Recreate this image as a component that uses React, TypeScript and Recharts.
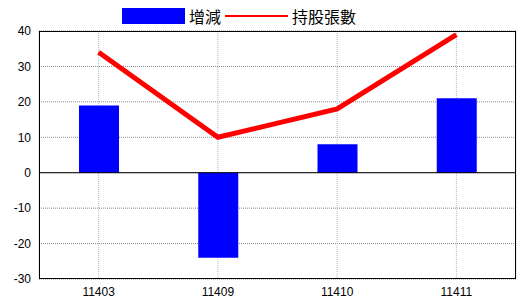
import * as R from 'recharts';
import { ComposedChart, Bar, Line, XAxis, YAxis, CartesianGrid, ReferenceLine, Legend } from 'recharts';

const months = ['11403', '11409', '11410', '11411'];
const change = [19, -24, 8, 21];
const holdings = [34, 10, 18, 39];
const yTicks = [-30, -20, -10, 0, 10, 20, 30, 40];

const data = months.map((m, i) => ({ month: m, change: change[i], holdings: holdings[i] }));

const tickStyle = { fontFamily: 'Liberation Sans, Arial, sans-serif', fontSize: 12, fill: '#000' };

const LegendBox = () => (
  <div style={{ display: 'flex', alignItems: 'center', justifyContent: 'center', height: 31, paddingRight: 38, fontFamily: '"Noto Sans CJK TC", sans-serif', fontSize: 16, color: '#000' }}>
    <span style={{ display: 'inline-block', width: 63, height: 16, background: '#0000ff', marginRight: 4 }} />
    <span style={{ marginRight: 4 }}>增減</span>
    <span style={{ display: 'inline-block', width: 63, height: 2, background: '#ff0000', marginRight: 4 }} />
    <span>持股張數</span>
  </div>
);

// black frame round the plot area
const Frame = () => {
  const area = (R as any).usePlotArea ? (R as any).usePlotArea() : null;
  if (!area) return null;
  return (
    <rect x={area.x + 0.5} y={area.y + 0.5} width={area.width - 1} height={area.height - 1} fill="none" stroke="#000" strokeWidth={1} />
  );
};

export default function App() {
  return (
    <div style={{ position: 'absolute', left: 0, top: 0, background: '#fff' }}>
      <ComposedChart width={520} height={300} data={data} margin={{ top: 0, right: 4, bottom: 0, left: 0 }}>
        <Legend verticalAlign="top" height={31} content={() => <LegendBox />} />
        <CartesianGrid horizontal vertical={false} stroke="#888" strokeDasharray="1 1" />
        <CartesianGrid horizontal={false} vertical stroke="#9ec3d6" strokeDasharray="1 1" />
        <XAxis dataKey="month" height={21} tickLine={false} axisLine={false} tick={tickStyle} interval={0} />
        <YAxis width={39} domain={[-30, 40]} ticks={yTicks} tickLine={false} axisLine={false} tick={tickStyle} interval={0} />
        <ReferenceLine y={0} stroke="#000" />
        <Bar dataKey="change" fill="#0000ff" barSize={40} isAnimationActive={false} />
        <Line dataKey="holdings" type="linear" stroke="#ff0000" strokeWidth={5} dot={false} isAnimationActive={false} />
        <Frame />
      </ComposedChart>
    </div>
  );
}
